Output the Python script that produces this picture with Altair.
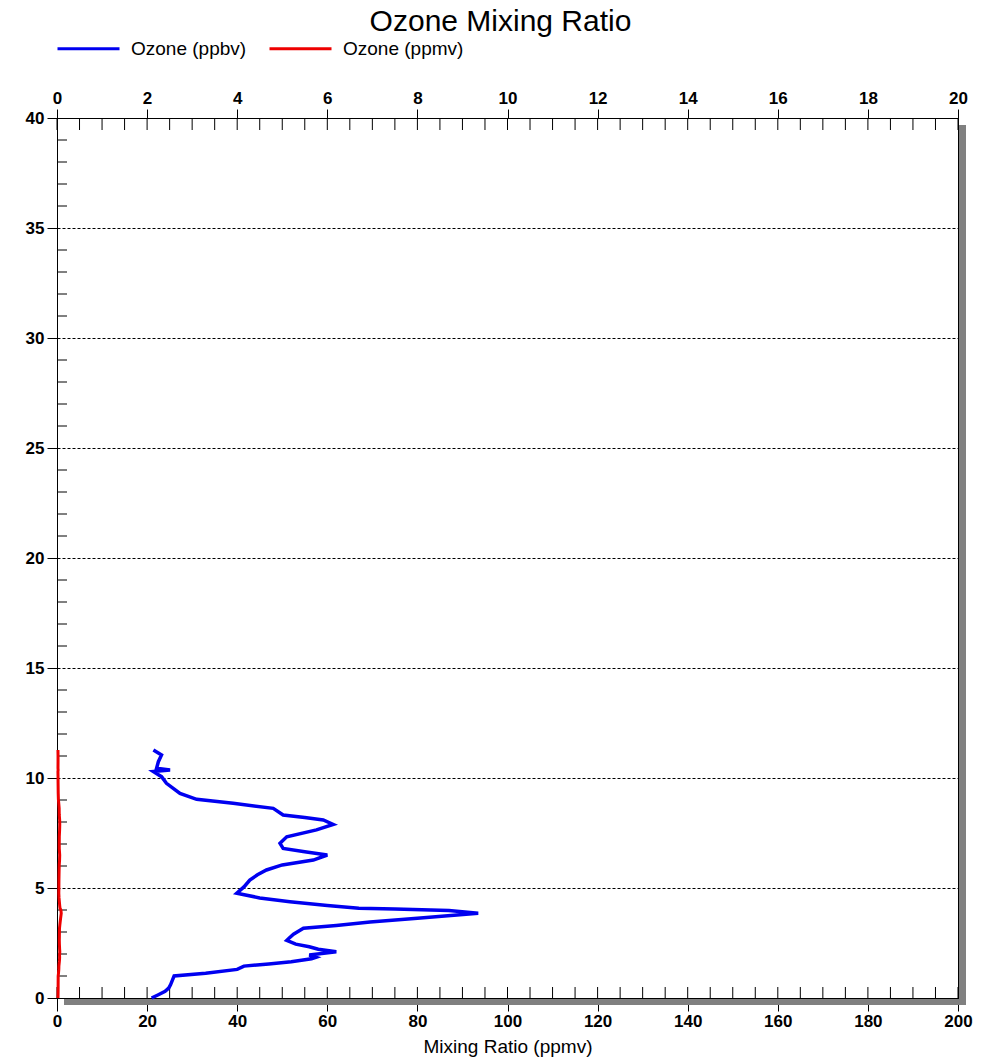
import altair as alt
import pandas as pd

# ---- data ----
alt_km = [0.0, 0.15, 0.3, 0.45, 0.6, 0.9, 1.0, 1.12, 1.30, 1.45, 1.55, 1.65, 1.78, 1.85, 1.95,
          2.10, 2.22, 2.33, 2.45, 2.62, 2.72, 2.90, 3.17, 3.30, 3.45, 3.62, 3.85, 3.98, 4.05,
          4.08, 4.20, 4.38, 4.55, 4.76, 5.05, 5.36, 5.60, 5.82, 6.05, 6.27, 6.50, 6.65, 6.80,
          7.03, 7.33, 7.64, 7.89, 8.09, 8.20, 8.32, 8.62, 8.85, 9.03, 9.30, 9.76, 10.06, 10.29,
          10.36, 10.44, 10.74, 11.05, 11.27]
ozone_ppbv = [21.0, 22.5, 24.0, 24.8, 25.2, 25.8, 26.0, 33.0, 40.0, 41.5, 47.0, 52.0, 56.5, 57.5, 56.0,
              62.0, 58.0, 56.0, 53.0, 51.0, 51.5, 52.5, 54.7, 62.0, 69.5, 80.0, 93.5, 87.0, 75.0,
              67.0, 60.0, 51.7, 45.0, 39.9, 41.5, 42.8, 44.5, 46.5, 50.0, 56.9, 60.0, 55.0, 50.2,
              49.5, 51.0, 57.6, 61.3, 59.1, 55.0, 50.2, 48.0, 39.1, 31.0, 27.3, 24.3, 23.2, 21.4,
              25.1, 22.1, 22.5, 23.2, 21.4]
ozone_ppmv = [0.021, 0.023, 0.024, 0.025, 0.025, 0.026, 0.026, 0.033, 0.040, 0.042, 0.047, 0.052, 0.057, 0.058, 0.056,
              0.062, 0.058, 0.056, 0.053, 0.051, 0.052, 0.053, 0.055, 0.062, 0.070, 0.080, 0.094, 0.087, 0.075,
              0.067, 0.060, 0.052, 0.045, 0.040, 0.042, 0.043, 0.045, 0.047, 0.050, 0.057, 0.060, 0.055, 0.050,
              0.050, 0.051, 0.058, 0.061, 0.059, 0.055, 0.050, 0.048, 0.039, 0.031, 0.027, 0.024, 0.023, 0.021,
              0.025, 0.022, 0.023, 0.023, 0.021]

series_names = ["Ozone (ppbv)", "Ozone (ppmv)"]
series_colors = ["#0000f0", "#ee0000"]

bottom_ticks = list(range(0, 201, 20))
bottom_minor = list(range(0, 201, 5))
top_ticks = list(range(0, 21, 2))
top_minor = [i * 0.5 for i in range(0, 41)]
left_ticks = list(range(0, 41, 5))
left_minor = [i for i in range(1, 40) if i % 5 != 0]

W, H = 901, 880
FONT = "Liberation Sans"

df_b = pd.DataFrame({"alt": alt_km, "val": ozone_ppbv, "series": series_names[0], "i": range(len(alt_km))})
df_r = pd.DataFrame({"alt": alt_km, "val": ozone_ppmv, "series": series_names[1], "i": range(len(alt_km))})

color = alt.Color("series:N", scale=alt.Scale(domain=series_names, range=series_colors),
                  legend=alt.Legend(title=None, orient="none", legendX=-1, legendY=-102,
                                    direction="horizontal", symbolType="stroke",
                                    symbolSize=3844, symbolStrokeWidth=3,
                                    labelFontSize=19, labelFont=FONT, labelColor="black",
                                    labelOffset=10, columnPadding=16, padding=0))

y_axis = alt.Axis(values=left_ticks, tickSize=10, labelPadding=3, grid=True,
                  gridDash=[3, 2], gridColor="black", gridOpacity=1, title=None)
y_scale = alt.Scale(domain=[0, 40], nice=False, zero=False)

blue = alt.Chart(df_b).mark_line(strokeWidth=3.5).encode(
    x=alt.X("val:Q", scale=alt.Scale(domain=[0, 200], nice=False),
            axis=alt.Axis(orient="bottom", values=bottom_ticks, tickSize=13, labelPadding=2,
                          labelFlush=False, title="Mixing Ratio (ppmv)", titlePadding=8,
                          grid=False)),
    y=alt.Y("alt:Q", scale=y_scale, axis=y_axis),
    color=color,
    order="i:Q",
)

red = alt.Chart(df_r).mark_line(strokeWidth=3).encode(
    x=alt.X("val:Q", scale=alt.Scale(domain=[0, 20], nice=False),
            axis=alt.Axis(orient="top", values=top_ticks, tickSize=9, labelPadding=2,
                          labelFlush=False, title=None, grid=False)),
    y=alt.Y("alt:Q", scale=y_scale, axis=y_axis),
    color=color,
    order="i:Q",
)

one = alt.Data(values=[{"k": 1}])
shadow_r = alt.Chart(one).mark_rect(color="#808080").encode(
    x=alt.value(W + 1), x2=alt.value(W + 8), y=alt.value(7), y2=alt.value(H + 7))
shadow_b = alt.Chart(one).mark_rect(color="#808080").encode(
    x=alt.value(7), x2=alt.value(W + 8), y=alt.value(H + 1), y2=alt.value(H + 7))

bmin = alt.Chart(pd.DataFrame({"v": bottom_minor})).mark_rule(color="black").encode(
    x=alt.X("v:Q", scale=alt.Scale(domain=[0, 200], nice=False), axis=None),
    y=alt.value(H - 11), y2=alt.value(H))
tmin = alt.Chart(pd.DataFrame({"v": top_minor})).mark_rule(color="black").encode(
    x=alt.X("v:Q", scale=alt.Scale(domain=[0, 20], nice=False), axis=None),
    y=alt.value(0), y2=alt.value(12))
lmin = alt.Chart(pd.DataFrame({"v": left_minor})).mark_rule(color="black").encode(
    y=alt.Y("v:Q", scale=y_scale, axis=y_axis),
    x=alt.value(0), x2=alt.value(10))

chart = alt.layer(shadow_r, shadow_b, bmin, tmin, lmin, blue, red).resolve_scale(
    x="independent"
).properties(
    width=W, height=H,
    title=alt.Title("Ozone Mixing Ratio", fontSize=30, font=FONT, fontWeight="normal",
                    anchor="middle", offset=-21, dx=-7, color="black"),
    autosize=alt.AutoSizeParams(type="none"),
    padding={"left": 49, "top": 110, "right": 20, "bottom": 61},
).configure_view(
    stroke="black", strokeWidth=1
).configure_axis(
    labelFont=FONT, labelFontSize=17, labelFontWeight="bold", labelColor="black",
    domainColor="black", tickColor="black", titleFont=FONT, titleFontSize=19,
    titleFontWeight="normal", titleColor="black", domainWidth=1, tickWidth=1,
)

chart.save("out.html", embed_options={"renderer": "svg", "actions": False})
